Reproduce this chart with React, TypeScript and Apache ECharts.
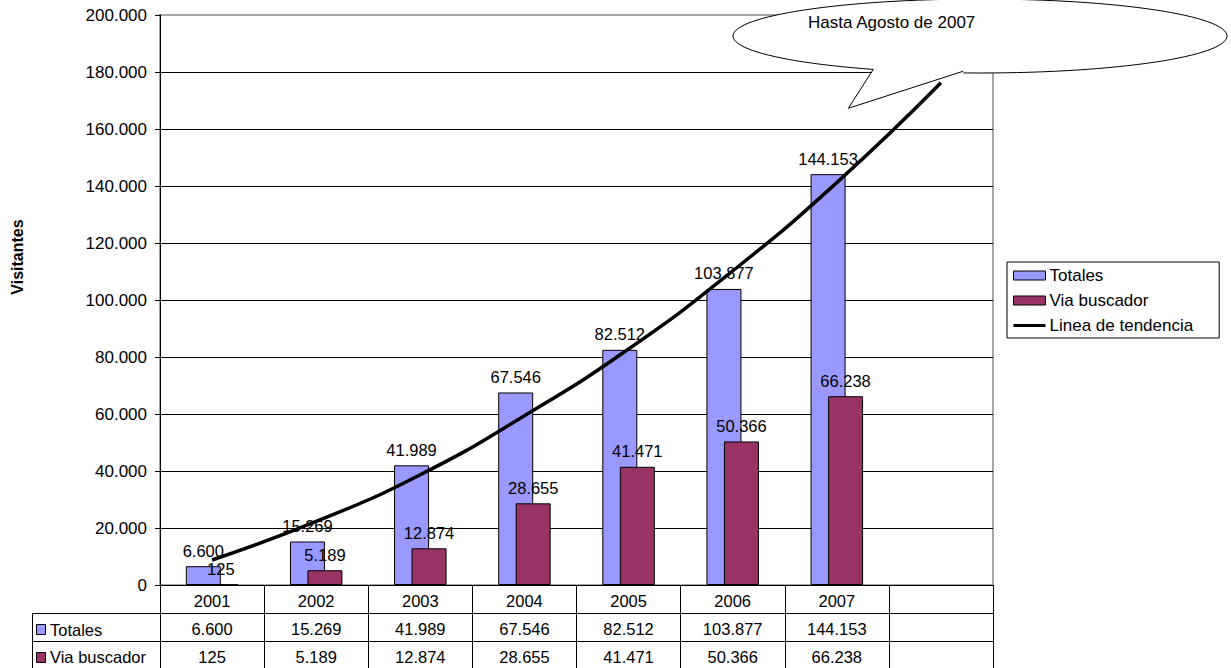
import React, { useEffect, useRef } from "react";
import * as echarts from "echarts";

const categories = ["2001", "2002", "2003", "2004", "2005", "2006", "2007", ""];
const totales = [6600, 15269, 41989, 67546, 82512, 103877, 144153];
const viaBuscador = [125, 5189, 12874, 28655, 41471, 50366, 66238];
// trend line at each category centre (incl. the empty 8th slot)
const tendencia = [8770, 22300, 38700, 59400, 82800, 110200, 141200, 176200];
const yTicks = { min: 0, max: 200000, interval: 20000 };

const FONT = "'Liberation Sans', Arial, sans-serif";
const fmt = (n: number) => String(n).replace(/\B(?=(\d{3})+(?!\d))/g, ".");

export default function App() {
  const ref = useRef<HTMLDivElement>(null);
  useEffect(() => {
    if (!ref.current) return;
    const chart = echarts.init(ref.current, undefined, { renderer: "svg" });
    const lbl = { color: "#000", fontFamily: FONT, fontSize: 16.5 };
    chart.setOption({
      animation: false,
      backgroundColor: "#fff",
      textStyle: { fontFamily: FONT, color: "#000" },
      grid: {
        left: 160,
        right: 238,
        top: 15,
        bottom: 83,
        show: true,
        borderColor: "#a6a6a6",
        borderWidth: 2,
        backgroundColor: "transparent",
      },
      legend: {
        orient: "vertical",
        left: 1007,
        top: 262,
        padding: [4, 26, 3, 6],
        itemGap: 6,
        itemWidth: 32,
        itemHeight: 9,
        borderColor: "#000",
        borderWidth: 1,
        backgroundColor: "#fff",
        textStyle: { color: "#000", fontFamily: FONT, fontSize: 17, lineHeight: 19, padding: [0, 0, 0, -1] },
        data: [
          { name: "Totales", icon: "rect", itemStyle: { borderColor: "#000", borderWidth: 1 } },
          { name: "Via buscador", icon: "rect", itemStyle: { borderColor: "#000", borderWidth: 1 } },
          {
            name: "Linea de tendencia",
            icon: "path://M0,3H32V6H0Z M0,0H0.01V0.01H0Z M31.99,8.99H32V9H31.99Z",
            itemStyle: { color: "#000", borderWidth: 0 },
          },
        ],
      },
      xAxis: [
        {
          type: "category",
          data: categories,
          gridIndex: 0,
          position: "bottom",
          axisLine: { lineStyle: { color: "#000", width: 1 } },
          axisTick: { show: true, length: 28, interval: 0, lineStyle: { color: "#000" } },
          axisLabel: { ...lbl, interval: 0, margin: 7 },
          splitLine: { show: false },
        },
        {
          type: "category",
          data: categories,
          gridIndex: 0,
          position: "bottom",
          offset: 28,
          axisLine: { lineStyle: { color: "#000", width: 1 } },
          axisTick: { show: true, length: 28, interval: 0, lineStyle: { color: "#000" } },
          axisLabel: {
            ...lbl,
            interval: 0,
            margin: 7,
            formatter: (_v: string, i: number) => (i < totales.length ? fmt(totales[i]) : ""),
          },
        },
        {
          type: "category",
          data: categories,
          gridIndex: 0,
          position: "bottom",
          offset: 56,
          axisLine: { lineStyle: { color: "#000", width: 1 } },
          axisTick: { show: true, length: 28, interval: 0, lineStyle: { color: "#000" } },
          axisLabel: {
            ...lbl,
            interval: 0,
            margin: 7,
            formatter: (_v: string, i: number) => (i < viaBuscador.length ? fmt(viaBuscador[i]) : ""),
          },
        },
      ],
      yAxis: {
        type: "value",
        min: yTicks.min,
        max: yTicks.max,
        interval: yTicks.interval,
        axisLine: { show: true, lineStyle: { color: "#000", width: 1 } },
        axisTick: { show: true, length: 5, lineStyle: { color: "#000" } },
        axisLabel: { color: "#000", fontFamily: FONT, fontSize: 17, margin: 13, formatter: (v: number) => fmt(v) },
        splitLine: { show: true, showMaxLine: false, lineStyle: { color: "#000", width: 1 } },
      },
      series: [
        {
          name: "Totales",
          type: "bar",
          xAxisIndex: 0,
          data: totales,
          barWidth: 35,
          barGap: "-50%",
          itemStyle: { color: "#9999FF", borderColor: "#000", borderWidth: 1 },
          label: { show: true, position: "top", distance: 7, ...lbl, formatter: (p: any) => fmt(p.value) },
        },
        {
          name: "Via buscador",
          type: "bar",
          xAxisIndex: 0,
          data: viaBuscador,
          barWidth: 35,
          barGap: "-50%",
          itemStyle: { color: "#993366", borderColor: "#000", borderWidth: 1 },
          label: { show: true, position: "top", distance: 7, ...lbl, formatter: (p: any) => fmt(p.value) },
        },
        {
          name: "Linea de tendencia",
          type: "line",
          xAxisIndex: 0,
          data: tendencia,
          smooth: true,
          symbol: "none",
          z: 5,
          itemStyle: { color: "#000" },
          lineStyle: { color: "#000", width: 3.5 },
        },
      ],
      graphic: [
        {
          type: "text",
          x: 17,
          y: 257,
          rotation: Math.PI / 2,
          style: {
            text: "Visitantes",
            fontFamily: FONT,
            fontSize: 16,
            fontWeight: "bold",
            fill: "#000",
            align: "center",
            verticalAlign: "middle",
          },
        },
        // data table left column
        { type: "line", shape: { x1: 32, y1: 613.5, x2: 160, y2: 613.5 }, style: { stroke: "#000", lineWidth: 1 } },
        { type: "line", shape: { x1: 32, y1: 641.5, x2: 160, y2: 641.5 }, style: { stroke: "#000", lineWidth: 1 } },
        { type: "line", shape: { x1: 32.5, y1: 613, x2: 32.5, y2: 668 }, style: { stroke: "#000", lineWidth: 1 } },
        { type: "rect", shape: { x: 36.5, y: 624.5, width: 9, height: 10 }, style: { fill: "#9999FF", stroke: "#000", lineWidth: 1 } },
        {
          type: "text",
          x: 50,
          y: 630,
          style: { text: "Totales", fontFamily: FONT, fontSize: 16.5, fill: "#000", verticalAlign: "middle" },
        },
        { type: "rect", shape: { x: 36.5, y: 652.5, width: 9, height: 10 }, style: { fill: "#993366", stroke: "#000", lineWidth: 1 } },
        {
          type: "text",
          x: 50,
          y: 657,
          style: { text: "Via buscador", fontFamily: FONT, fontSize: 16.5, fill: "#000", verticalAlign: "middle" },
        },
        // callout
        {
          type: "ellipse",
          z: 100,
          shape: { cx: 980, cy: 36, rx: 247, ry: 37 },
          style: { fill: "#fff", stroke: "#000", lineWidth: 1 },
        },
        {
          type: "polygon",
          z: 101,
          shape: { points: [[873.5, 69.8], [848.5, 108.3], [963.5, 73.6], [963.5, 60], [873.5, 60]] },
          style: { fill: "#fff", stroke: "none" },
        },
        {
          type: "polyline",
          z: 102,
          shape: { points: [[873.3, 69.3], [848.3, 108.3], [963.3, 71.2]] },
          style: { fill: "none", stroke: "#000", lineWidth: 1 },
        },
        {
          type: "text",
          z: 103,
          x: 808,
          y: 22,
          style: { text: "Hasta Agosto de 2007", fontFamily: FONT, fontSize: 17, fill: "#000", verticalAlign: "middle" },
        },
      ],
    });
    return () => chart.dispose();
  }, []);
  return <div ref={ref} style={{ position: "absolute", left: 0, top: 0, width: 1231, height: 668 }} />;
}
